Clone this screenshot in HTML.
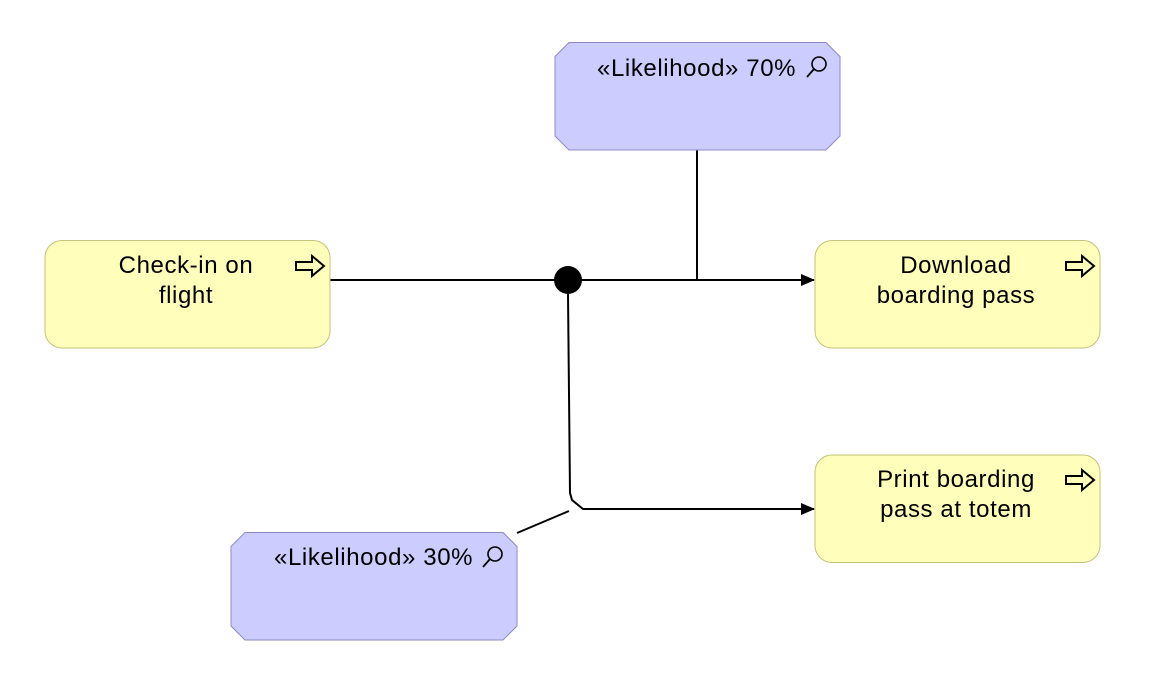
<!DOCTYPE html>
<html><head><meta charset="utf-8"><style>
html,body{margin:0;padding:0;background:#fff;}
svg{display:block;}
text{font-family:"Liberation Sans","DejaVu Sans",sans-serif;font-size:24px;letter-spacing:0.6px;fill:#000;}
</style></head><body>
<svg width="1159" height="699" viewBox="0 0 1159 699" xmlns="http://www.w3.org/2000/svg">
<defs>
<marker id="ar" markerWidth="14" markerHeight="12" refX="13" refY="6" orient="auto" markerUnits="userSpaceOnUse">
<path d="M0,0 L14,6 L0,12 Z" fill="#000"/></marker>
<g id="icon"><path d="M0,-4 L16,-4 L16,-10 L28,0 L16,10 L16,4 L0,4 Z" fill="none" stroke="#000" stroke-width="2"/></g>
<g id="mag"><circle cx="8" cy="-8" r="7" fill="none" stroke="#000" stroke-width="1.6"/><line x1="3" y1="-3" x2="-4" y2="5" stroke="#000" stroke-width="1.8"/></g>
</defs>
<line x1="330" y1="280" x2="814" y2="280" stroke="#000" stroke-width="2" marker-end="url(#ar)"/>
<line x1="697" y1="150" x2="697" y2="280" stroke="#000" stroke-width="2"/>
<path d="M568,294 L570,493 L572,500 L583,509 L814,509" fill="none" stroke="#000" stroke-width="2" marker-end="url(#ar)"/>
<line x1="517" y1="533" x2="569" y2="511" stroke="#000" stroke-width="2"/>
<circle cx="568" cy="280" r="14" fill="#000"/>
<rect x="45" y="240.5" width="285" height="107.5" rx="17" fill="#ffffbb" stroke="#c2c27a"/>
<rect x="815" y="240.5" width="285" height="107.5" rx="17" fill="#ffffbb" stroke="#c2c27a"/>
<rect x="815" y="455" width="285" height="107.5" rx="17" fill="#ffffbb" stroke="#c2c27a"/>
<use href="#icon" x="296" y="266"/>
<use href="#icon" x="1066" y="266"/>
<use href="#icon" x="1066" y="480"/>
<text x="186" y="273" text-anchor="middle">Check-in on</text>
<text x="186" y="303" text-anchor="middle">flight</text>
<text x="956" y="273" text-anchor="middle">Download</text>
<text x="956" y="303" text-anchor="middle">boarding pass</text>
<text x="956" y="487" text-anchor="middle">Print boarding</text>
<text x="956" y="517" text-anchor="middle">pass at totem</text>
<path d="M569,42.5 L826,42.5 L840,56.5 L840,136 L826,150 L569,150 L555,136 L555,56.5 Z" fill="#ccccff" stroke="#8c8cc4"/>
<path d="M245,532.5 L503,532.5 L517,546.5 L517,626 L503,640 L245,640 L231,626 L231,546.5 Z" fill="#ccccff" stroke="#8c8cc4"/>
<text x="597" y="76">«Likelihood» 70%</text>
<use href="#mag" x="811" y="72"/>
<text x="274" y="565">«Likelihood» 30%</text>
<use href="#mag" x="487" y="562"/>
</svg>
</body></html>
